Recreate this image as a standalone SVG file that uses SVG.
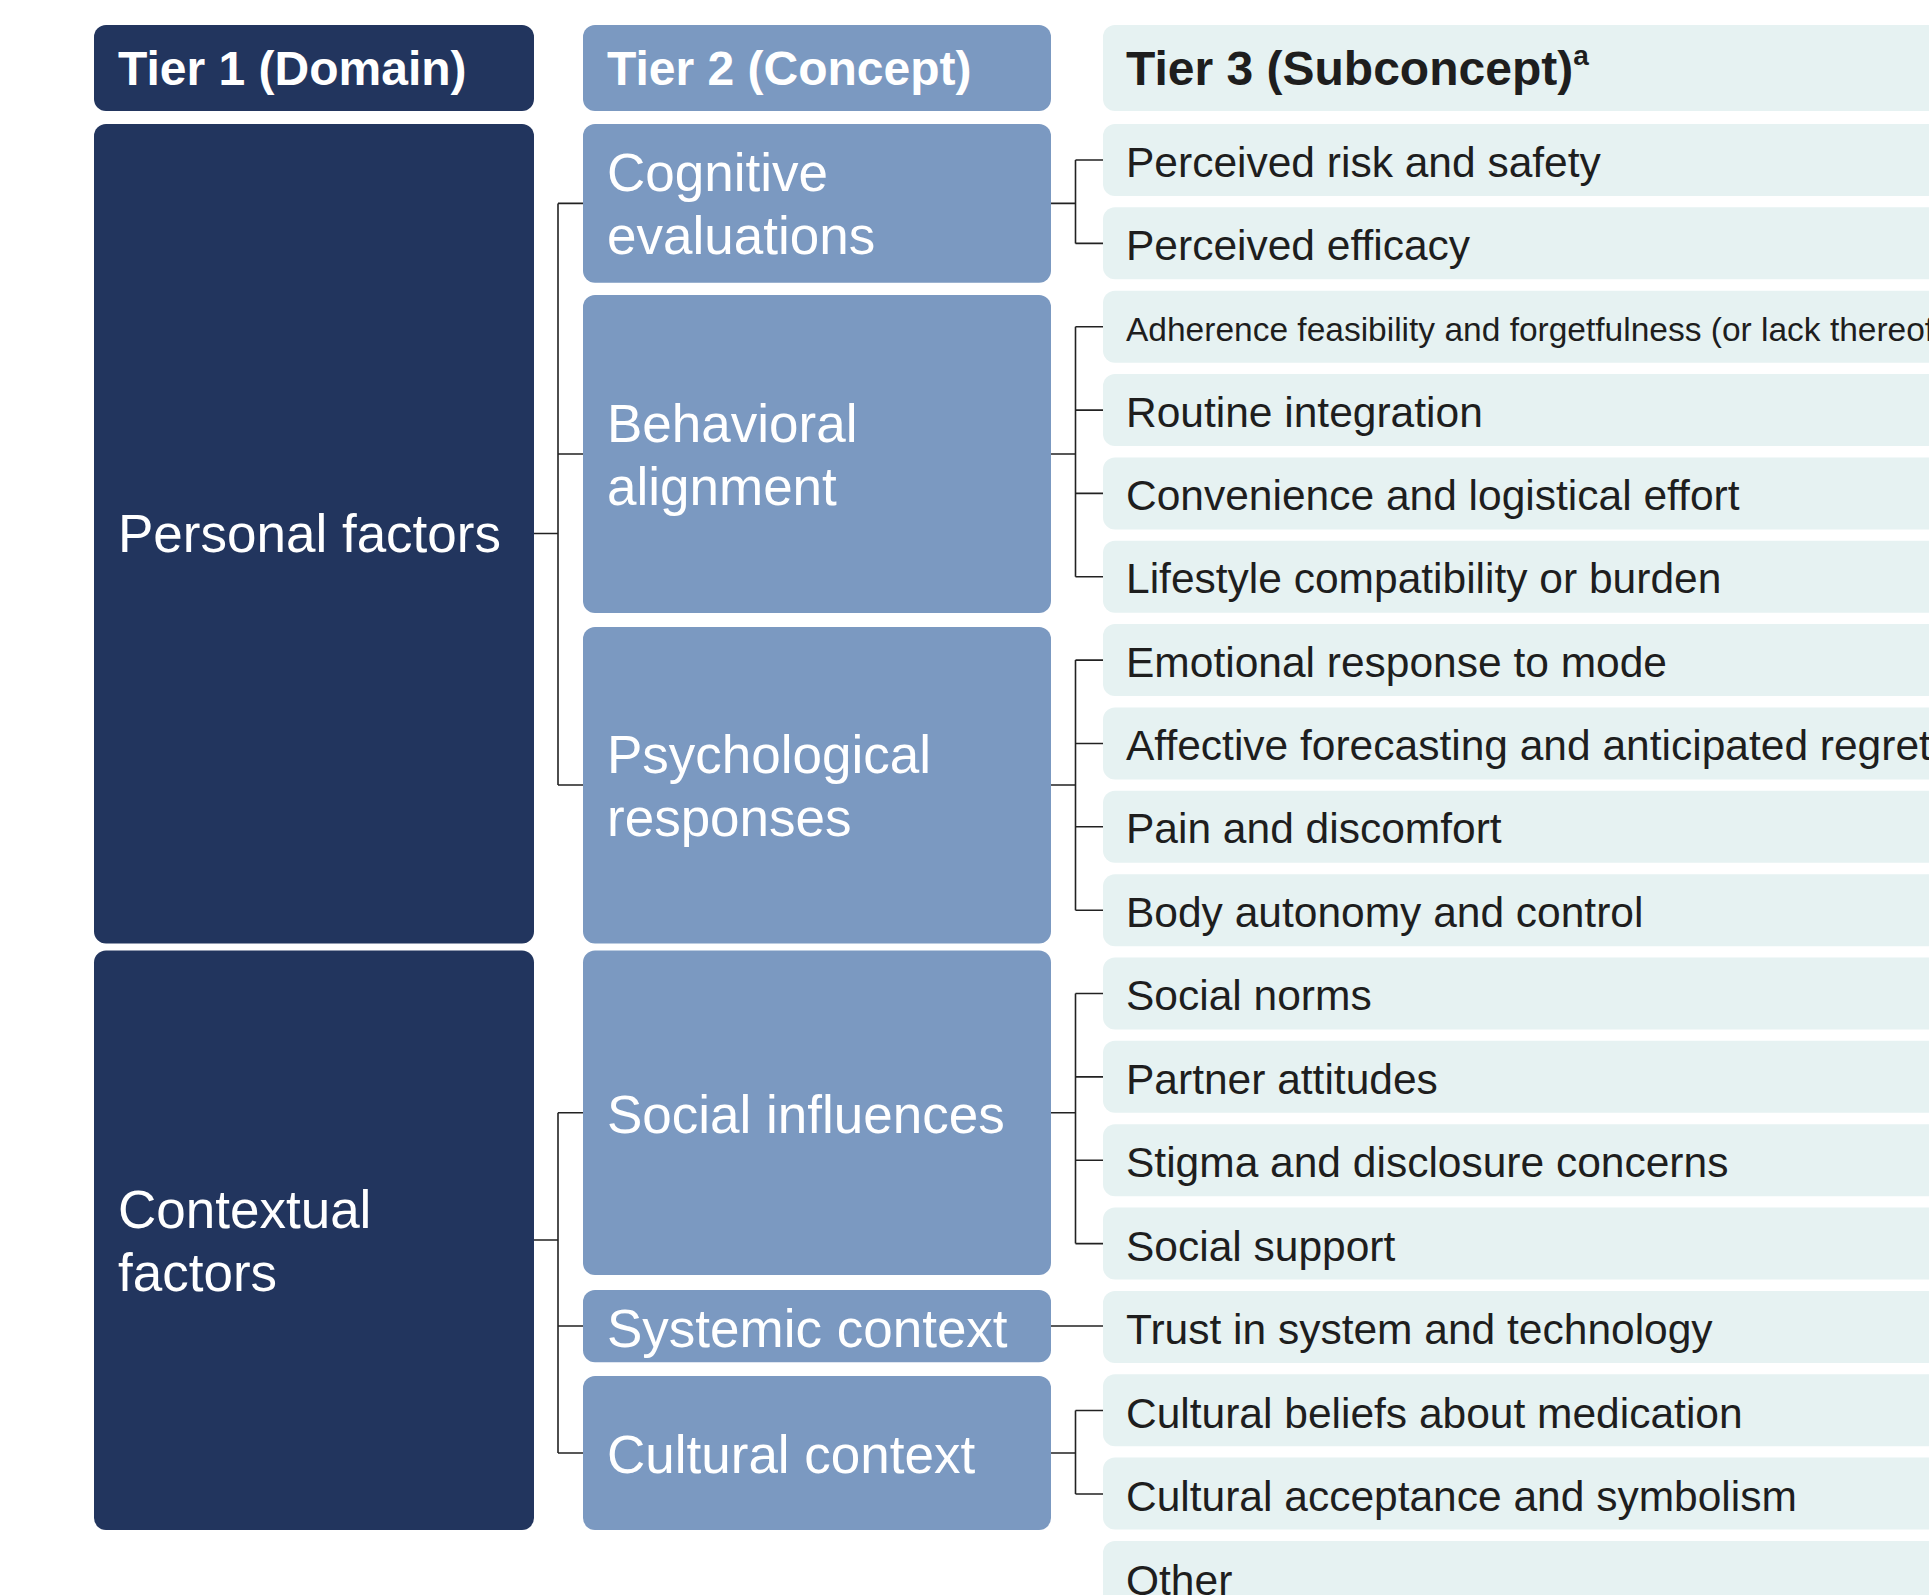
<svg xmlns="http://www.w3.org/2000/svg" width="1929" height="1595" viewBox="0 0 1929 1595">
  <style>
    .t1 { fill: #22355E; }
    .t2 { fill: #7B99C1; }
    .t3 { fill: #E6F2F2; }
    .hdr { font-family: "Liberation Sans", Arial, sans-serif; font-weight: bold; font-size: 48px; }
    .lbl { font-family: "Liberation Sans", Arial, sans-serif; font-size: 53px; fill: #FFFFFF; }
    .sub { font-family: "Liberation Sans", Arial, sans-serif; font-size: 42.5px; fill: #1E1E1E; }
    .small { font-size: 33.5px; }
    .wire { fill: none; stroke: #222222; stroke-width: 1.6; }
  </style>

  <rect width="1929" height="1595" fill="#FFFFFF"/>

  <!-- column headers -->
  <g id="header-tier1">
    <rect class="t1" x="94" y="25" width="440" height="86" rx="12"/>
    <text class="hdr" x="118" y="85" fill="#FFFFFF">Tier 1 (Domain)</text>
  </g>
  <g id="header-tier2">
    <rect class="t2" x="583" y="25" width="468" height="86" rx="12"/>
    <text class="hdr" x="607" y="85" fill="#FFFFFF">Tier 2 (Concept)</text>
  </g>
  <g id="header-tier3">
    <rect class="t3" x="1103" y="25" width="860" height="86" rx="12"/>
    <text class="hdr" x="1126" y="85" fill="#1E1E1E">Tier 3 (Subconcept)<tspan font-size="28" dy="-20">a</tspan></text>
  </g>

  <!-- connectors -->
  <g id="connectors">
    <!-- domain to concept -->
    <path class="wire" d="M534 533.5H558M558 203.4V785M558 203.4H583M558 454H583M558 785H583"/>
    <path class="wire" d="M534 1240H558M558 1112.7V1453M558 1112.7H583M558 1326H583M558 1453H583"/>
    <!-- concept to subconcept -->
    <path class="wire" d="M1051 203.4H1075.5M1075.5 160V243.4M1075.5 160H1103M1075.5 243.4H1103"/>
    <path class="wire" d="M1051 454H1075.5M1075.5 326.7V576.8M1075.5 326.7H1103M1075.5 410.1H1103M1075.5 493.4H1103M1075.5 576.8H1103"/>
    <path class="wire" d="M1051 785H1075.5M1075.5 660.1V910.2M1075.5 660.1H1103M1075.5 743.5H1103M1075.5 826.8H1103M1075.5 910.2H1103"/>
    <path class="wire" d="M1051 1112.7H1075.5M1075.5 993.5V1243.6M1075.5 993.5H1103M1075.5 1076.9H1103M1075.5 1160.2H1103M1075.5 1243.6H1103"/>
    <path class="wire" d="M1051 1326H1103"/>
    <path class="wire" d="M1051 1453H1075.5M1075.5 1410.5V1494M1075.5 1410.5H1103M1075.5 1494H1103"/>
  </g>

  <!-- tier 1: domains -->
  <g id="domain-personal">
    <rect class="t1" x="94" y="124" width="440" height="819.5" rx="12"/>
    <text class="lbl" x="118" y="552">Personal factors</text>
  </g>
  <g id="domain-contextual">
    <rect class="t1" x="94" y="950.5" width="440" height="579.5" rx="12"/>
    <text class="lbl" x="118" y="1228">Contextual</text>
    <text class="lbl" x="118" y="1291">factors</text>
  </g>

  <!-- tier 2: concepts -->
  <g id="concept-cognitive">
    <rect class="t2" x="583" y="124" width="468" height="158.7" rx="12"/>
    <text class="lbl" x="607" y="191">Cognitive</text>
    <text class="lbl" x="607" y="254">evaluations</text>
  </g>
  <g id="concept-behavioral">
    <rect class="t2" x="583" y="295" width="468" height="318" rx="12"/>
    <text class="lbl" x="607" y="442">Behavioral</text>
    <text class="lbl" x="607" y="505">alignment</text>
  </g>
  <g id="concept-psychological">
    <rect class="t2" x="583" y="627" width="468" height="316.5" rx="12"/>
    <text class="lbl" x="607" y="773">Psychological</text>
    <text class="lbl" x="607" y="836">responses</text>
  </g>
  <g id="concept-social">
    <rect class="t2" x="583" y="950.5" width="468" height="324.5" rx="12"/>
    <text class="lbl" x="607" y="1132.5">Social influences</text>
  </g>
  <g id="concept-systemic">
    <rect class="t2" x="583" y="1290" width="468" height="72.3" rx="12"/>
    <text class="lbl" x="607" y="1346.5">Systemic context</text>
  </g>
  <g id="concept-cultural">
    <rect class="t2" x="583" y="1376" width="468" height="154" rx="12"/>
    <text class="lbl" x="607" y="1472.5">Cultural context</text>
  </g>

  <!-- tier 3: subconcepts -->
  <g id="sub-risk"><rect class="t3" x="1103" y="124" width="860" height="72" rx="12"/><text class="sub" x="1126" y="176.5">Perceived risk and safety</text></g>
  <g id="sub-efficacy"><rect class="t3" x="1103" y="207.35" width="860" height="72" rx="12"/><text class="sub" x="1126" y="259.9">Perceived efficacy</text></g>
  <g id="sub-adherence"><rect class="t3" x="1103" y="290.7" width="860" height="72" rx="12"/><text class="sub small" x="1126" y="340.7">Adherence feasibility and forgetfulness (or lack thereof)</text></g>
  <g id="sub-routine"><rect class="t3" x="1103" y="374.05" width="860" height="72" rx="12"/><text class="sub" x="1126" y="426.6">Routine integration</text></g>
  <g id="sub-convenience"><rect class="t3" x="1103" y="457.4" width="860" height="72" rx="12"/><text class="sub" x="1126" y="509.9">Convenience and logistical effort</text></g>
  <g id="sub-lifestyle"><rect class="t3" x="1103" y="540.75" width="860" height="72" rx="12"/><text class="sub" x="1126" y="593.3">Lifestyle compatibility or burden</text></g>
  <g id="sub-emotional"><rect class="t3" x="1103" y="624.1" width="860" height="72" rx="12"/><text class="sub" x="1126" y="676.6">Emotional response to mode</text></g>
  <g id="sub-affective"><rect class="t3" x="1103" y="707.45" width="860" height="72" rx="12"/><text class="sub" x="1126" y="760">Affective forecasting and anticipated regret</text></g>
  <g id="sub-pain"><rect class="t3" x="1103" y="790.8" width="860" height="72" rx="12"/><text class="sub" x="1126" y="843.3">Pain and discomfort</text></g>
  <g id="sub-autonomy"><rect class="t3" x="1103" y="874.15" width="860" height="72" rx="12"/><text class="sub" x="1126" y="926.7">Body autonomy and control</text></g>
  <g id="sub-norms"><rect class="t3" x="1103" y="957.5" width="860" height="72" rx="12"/><text class="sub" x="1126" y="1010.2">Social norms</text></g>
  <g id="sub-partner"><rect class="t3" x="1103" y="1040.85" width="860" height="72" rx="12"/><text class="sub" x="1126" y="1093.6">Partner attitudes</text></g>
  <g id="sub-stigma"><rect class="t3" x="1103" y="1124.2" width="860" height="72" rx="12"/><text class="sub" x="1126" y="1177">Stigma and disclosure concerns</text></g>
  <g id="sub-support"><rect class="t3" x="1103" y="1207.55" width="860" height="72" rx="12"/><text class="sub" x="1126" y="1260.6">Social support</text></g>
  <g id="sub-trust"><rect class="t3" x="1103" y="1290.9" width="860" height="72" rx="12"/><text class="sub" x="1126" y="1344.3">Trust in system and technology</text></g>
  <g id="sub-beliefs"><rect class="t3" x="1103" y="1374.25" width="860" height="72" rx="12"/><text class="sub" x="1126" y="1427.8">Cultural beliefs about medication</text></g>
  <g id="sub-acceptance"><rect class="t3" x="1103" y="1457.6" width="860" height="72" rx="12"/><text class="sub" x="1126" y="1511.2">Cultural acceptance and symbolism</text></g>
  <g id="sub-other"><rect class="t3" x="1103" y="1540.95" width="860" height="72" rx="12"/><text class="sub" x="1126" y="1594.5">Other</text></g>
</svg>
